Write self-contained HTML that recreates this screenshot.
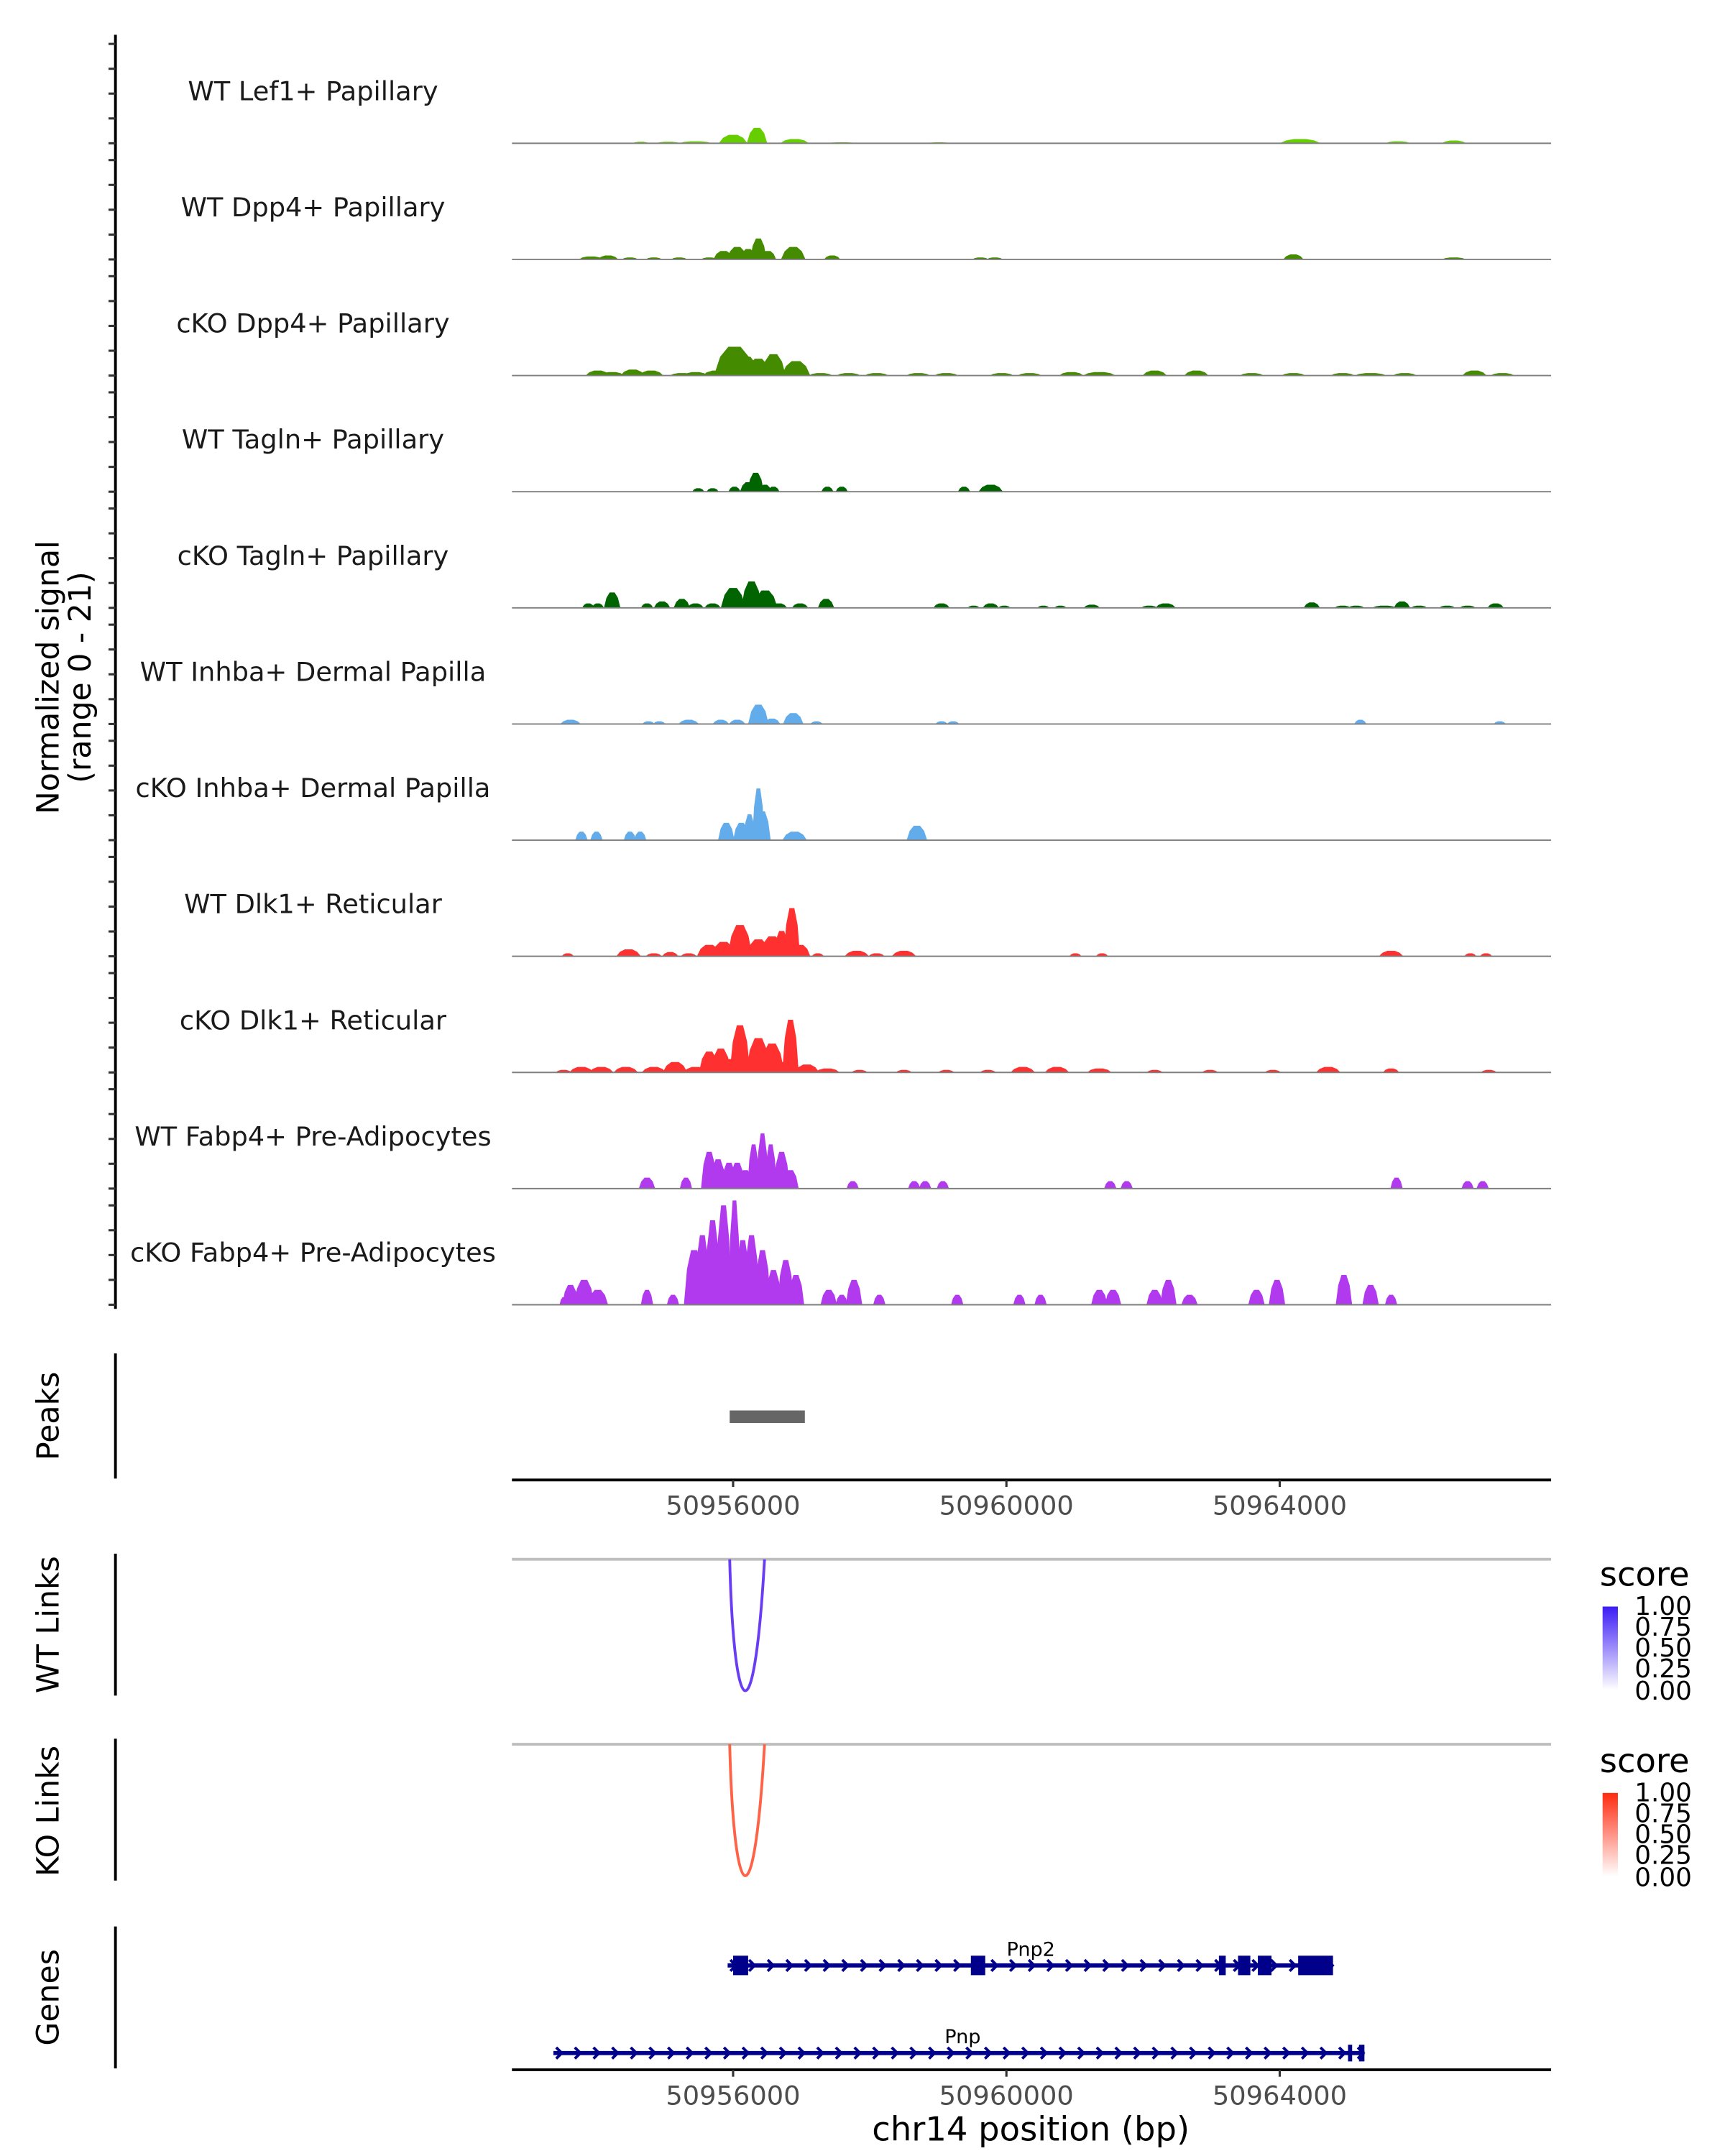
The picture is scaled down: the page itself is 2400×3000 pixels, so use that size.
<!DOCTYPE html>
<html><head><meta charset="utf-8"><style>
html,body{margin:0;padding:0;background:#fff}
svg{display:block}
text{font-family:"DejaVu Sans","Liberation Sans",sans-serif}
</style></head><body>
<svg id="chart" width="2400" height="3000" viewBox="0 0 1240 1550" preserveAspectRatio="none" xmlns="http://www.w3.org/2000/svg">
<defs>
<linearGradient id="gWT" x1="0" y1="1" x2="0" y2="0"><stop offset="0" stop-color="#ffffff"/><stop offset="1" stop-color="#3b1cf5"/></linearGradient>
<linearGradient id="gKO" x1="0" y1="1" x2="0" y2="0"><stop offset="0" stop-color="#ffffff"/><stop offset="1" stop-color="#ff2a10"/></linearGradient>
</defs>
<g id="tracks"></g>
<text transform="translate(42,487) rotate(-90)" text-anchor="middle" font-size="22" fill="#000">Normalized signal</text>
<text transform="translate(65,487) rotate(-90)" text-anchor="middle" font-size="22" fill="#000">(range 0 - 21)</text>
<g id="peaks"></g>
<text transform="translate(42,1018) rotate(-90)" text-anchor="middle" font-size="22">Peaks</text>
<g id="links"></g>
<text transform="translate(42,1168) rotate(-90)" text-anchor="middle" font-size="22">WT Links</text>
<text transform="translate(42,1302) rotate(-90)" text-anchor="middle" font-size="22">KO Links</text>
<g>
<text x="1150" y="1140" font-size="24">score</text>
<rect x="1152" y="1155" width="11" height="60" fill="url(#gWT)"/>
<g font-size="18.5" fill="#000"><text x="1175" y="1161">1.00</text><text x="1175" y="1176">0.75</text><text x="1175" y="1191">0.50</text><text x="1175" y="1206">0.25</text><text x="1175" y="1222">0.00</text></g>
</g>
<g>
<text x="1150" y="1274" font-size="24">score</text>
<rect x="1152" y="1289" width="11" height="60" fill="url(#gKO)"/>
<g font-size="18.5" fill="#000"><text x="1175" y="1295">1.00</text><text x="1175" y="1310">0.75</text><text x="1175" y="1325">0.50</text><text x="1175" y="1340">0.25</text><text x="1175" y="1356">0.00</text></g>
</g>
<g id="genes"></g>
<text transform="translate(42,1436) rotate(-90)" text-anchor="middle" font-size="22">Genes</text>
<text x="741" y="1539" text-anchor="middle" font-size="24">chr14 position (bp)</text>
</svg>
<script>
const NS='http://www.w3.org/2000/svg';
const xDomain=[50952763,50967972];
const xTicks=[50956000,50960000,50964000];
const yMax=21;
const yTicks=[0,5,10,15,20];
const trackNames=["WT Lef1+ Papillary","WT Dpp4+ Papillary","cKO Dpp4+ Papillary","WT Tagln+ Papillary","cKO Tagln+ Papillary","WT Inhba+ Dermal Papilla","cKO Inhba+ Dermal Papilla","WT Dlk1+ Reticular","cKO Dlk1+ Reticular","WT Fabp4+ Pre-Adipocytes","cKO Fabp4+ Pre-Adipocytes"];
const trackColors=["#66cd00","#458b00","#458b00","#006400","#006400","#63aceb","#63aceb","#ff3030","#ff3030","#b23aee","#b23aee"];
// peaks: [position bp, signal, width bp]
const sigLef1WT=[[50955450,0.4,400],[50956000,1.7,350],[50956350,3.1,250],[50956900,0.85,350],[50955050,0.3,300],[50954650,0.3,200],[50964300,0.85,500],[50965730,0.4,300],[50966550,0.55,300],[50959010,0.2,300],[50957590,0.2,400]];
const sigDpp4WT=[[50953920,0.6,300],[50954170,0.8,250],[50954490,0.4,200],[50954840,0.4,200],[50955210,0.4,200],[50955650,0.4,200],[50955860,1.7,250],[50956060,2.5,250],[50956220,2.1,200],[50956370,4.2,200],[50956510,1.7,200],[50956880,2.5,300],[50957450,0.8,200],[50959620,0.4,200],[50959830,0.4,200],[50964200,1,250],[50966550,0.4,300]];
const sigDpp4KO=[[50954020,1,300],[50954230,0.7,300],[50954530,1.2,300],[50954800,1,300],[50955250,0.5,300],[50955450,0.7,300],[50955760,1,350],[50956020,5.8,500],[50956200,3.8,300],[50956370,3.4,300],[50956590,4.3,300],[50956920,2.9,350],[50957280,0.5,300],[50957690,0.5,300],[50958100,0.5,300],[50958710,0.5,300],[50959120,0.5,300],[50959930,0.5,300],[50960340,0.5,300],[50960950,0.7,300],[50961360,0.7,400],[50962170,1,300],[50962780,1,300],[50963590,0.5,300],[50964200,0.5,300],[50964920,0.5,300],[50965330,0.5,400],[50965830,0.5,300],[50966850,1,300],[50967260,0.5,300]];
const sigTaglnWT=[[50955490,0.7,150],[50955700,0.7,150],[50956020,1,150],[50956220,1.9,200],[50956330,3.8,200],[50956470,1.4,150],[50956590,1,150],[50957380,1,150],[50957590,1,150],[50959380,1,150],[50959770,1.4,300]];
const sigTaglnKO=[[50953880,0.9,150],[50954020,0.9,150],[50954230,3.1,200],[50954740,0.9,150],[50954960,1.3,200],[50955250,1.8,200],[50955450,0.9,200],[50955700,0.9,200],[50956000,4,300],[50956270,5.3,250],[50956470,3.5,300],[50956670,0.9,200],[50956980,0.9,200],[50957360,1.8,200],[50959050,0.9,200],[50959520,0.45,150],[50959770,0.9,200],[50959970,0.45,150],[50960540,0.45,150],[50960790,0.45,150],[50961250,0.65,200],[50962090,0.45,200],[50962330,0.9,250],[50964470,1.1,200],[50964920,0.45,200],[50965120,0.45,200],[50965530,0.45,300],[50965790,1.3,200],[50966040,0.45,200],[50966450,0.45,200],[50966750,0.45,200],[50967160,0.9,200]];
const sigInhbaWT=[[50953620,0.85,250],[50954760,0.55,150],[50954920,0.55,150],[50955350,0.85,250],[50955820,0.85,200],[50956060,0.85,200],[50956370,3.9,250],[50956570,1.1,200],[50956880,2.2,250],[50957220,0.55,150],[50959050,0.55,150],[50959220,0.55,150],[50965180,0.85,150],[50967220,0.55,150]];
const sigInhbaKO=[[50953780,1.7,150],[50954000,1.7,150],[50954490,1.7,150],[50954640,1.7,150],[50955900,3.5,200],[50956120,3.5,200],[50956240,5.2,150],[50956370,10.4,150],[50956430,5.8,200],[50956900,1.7,300],[50958690,2.9,250]];
const sigDlk1WT=[[50953580,0.6,150],[50954470,1.4,300],[50954840,0.6,200],[50955080,0.85,200],[50955350,0.6,200],[50955650,2.3,300],[50955860,2.9,300],[50956100,6.3,300],[50956370,3.4,300],[50956570,4,300],[50956710,5.1,200],[50956860,9.7,200],[50956980,2.3,250],[50957240,0.6,150],[50957810,1.1,300],[50958100,0.6,200],[50958500,1.1,300],[50961010,0.6,150],[50961400,0.6,150],[50965630,1.1,300],[50966790,0.6,150],[50967020,0.6,150]];
const sigDlk1KO=[[50953520,0.5,200],[50953780,1.1,300],[50954070,1.1,300],[50954430,1.1,300],[50954840,1.1,300],[50955150,2.1,300],[50955450,1.1,300],[50955650,4.2,250],[50955820,4.8,250],[50955960,2.7,250],[50956100,9.5,250],[50956370,6.9,300],[50956570,5.8,300],[50956710,2.1,200],[50956840,10.6,200],[50957080,1.6,300],[50957380,0.8,300],[50957850,0.5,200],[50958500,0.5,200],[50959120,0.5,200],[50959730,0.5,200],[50960240,1.1,300],[50960740,1.1,300],[50961360,0.8,300],[50962170,0.5,200],[50962980,0.5,200],[50963900,0.5,200],[50964710,1.1,300],[50965630,0.8,200],[50967060,0.5,200]];
const sigFabp4WT=[[50954740,2.2,200],[50955310,2.2,150],[50955650,7.4,200],[50955780,5.9,200],[50955940,5.2,200],[50956060,5.2,200],[50956180,3.7,200],[50956300,8.9,150],[50956430,11.1,150],[50956550,8.9,150],[50956710,7.4,200],[50956840,3.7,200],[50957750,1.5,150],[50958650,1.5,150],[50958810,1.5,150],[50959070,1.5,150],[50961520,1.5,150],[50961760,1.5,150],[50965710,2.2,150],[50966750,1.5,150],[50966970,1.5,150]];
const sigFabp4KO=[[50953520,1.5,100],[50953620,4,200],[50953820,5,250],[50954020,3,250],[50954740,3,150],[50955120,2,150],[50955430,11,250],[50955550,14,200],[50955700,17,200],[50955860,20,200],[50956020,21,150],[50956140,13,200],[50956270,14,200],[50956430,11,200],[50956590,7,200],[50956770,9,200],[50956920,6,200],[50957400,3,200],[50957590,2,150],[50957770,5,200],[50958140,2,150],[50959280,2,150],[50960190,2,150],[50960500,2,150],[50961360,3,200],[50961560,3,200],[50962170,3,200],[50962370,5,200],[50962680,2,200],[50963660,3,200],[50963960,5,200],[50964940,6,200],[50965330,4,200],[50965630,2,150]];
const trackSignals=[sigLef1WT,sigDpp4WT,sigDpp4KO,sigTaglnWT,sigTaglnKO,sigInhbaWT,sigInhbaKO,sigDlk1WT,sigDlk1KO,sigFabp4WT,sigFabp4KO];
const peakRegions=[[50955950,50957050]];
const wtLinks=[[50955950,50956460,1.0]];
const koLinks=[[50955950,50956460,1.0]];
const pnp2Exons=[[50956000,50956220],[50959480,50959690],[50963110,50963210],[50963390,50963570],[50963680,50963880],[50964270,50964780]];
const pnpExons=[[50965000,50965060],[50965160,50965240]];
const geneSpans=[["Pnp2",50955920,50964780],["Pnp",50953370,50965240]];

const PX0=368,PX1=1115;
const PEAK_SPREAD=1.2;
function xs(bp){return PX0+(bp-xDomain[0])/(xDomain[1]-xDomain[0])*(PX1-PX0);}
const TRACK_BASE0=103,TRACK_STEP=83.5,TRACK_H=75;
function ys(v,base){return base-v/yMax*TRACK_H;}
function mk(tag,attrs,parent){const e=document.createElementNS(NS,tag);for(const k in attrs)e.setAttribute(k,attrs[k]);parent.appendChild(e);return e;}

const tg=document.getElementById('tracks');
const yAxisLine=mk('line',{x1:83,x2:83,y1:25,y2:941,stroke:'#000','stroke-width':2},tg);


trackNames.forEach((name,i)=>{
  const base=TRACK_BASE0+i*TRACK_STEP;
  const g=mk('g',{},tg);
  
  
  yTicks.forEach(t=>{
    const tk=mk('line',{x1:78,x2:83,y1:ys(t,base),y2:ys(t,base),stroke:'#333','stroke-width':1.6},g);
    
    
  });
  const lab=mk('text',{x:225,y:base-31,'text-anchor':'middle','font-size':19,fill:'#1a1a1a'},g);
  lab.textContent=name;
  
  
  trackSignals[i].forEach(p=>{
    const c=xs(p[0]),hw=(xs(p[0]+p[2]/2)-xs(p[0]-p[2]/2))/2*PEAK_SPREAD,top=ys(p[1],base);
    const poly=mk('polygon',{points:`${c-hw},${base} ${c-hw*0.7},${top+(base-top)*0.35} ${c-hw*0.3},${top} ${c+hw*0.3},${top} ${c+hw*0.7},${top+(base-top)*0.35} ${c+hw},${base}`,fill:trackColors[i]},g);
    
    
  });
  const bl=mk('line',{x1:PX0,x2:PX1,y1:base,y2:base,stroke:'#7f7f7f','stroke-width':1},g);
  
  
});

function xAxis(parent,y){
  const l=mk('line',{x1:PX0,x2:PX1,y1:y,y2:y,stroke:'#000','stroke-width':2},parent);
  
  
  xTicks.forEach(t=>{
    const tk=mk('line',{x1:xs(t),x2:xs(t),y1:y,y2:y+5,stroke:'#333','stroke-width':1.6},parent);
    
    
    const tl=mk('text',{x:xs(t),y:y+25,'text-anchor':'middle','font-size':19,fill:'#4d4d4d'},parent);
    tl.textContent=String(t);
    
    
  });
}
const pg=document.getElementById('peaks');
const pax=mk('line',{x1:83,x2:83,y1:973,y2:1063,stroke:'#000','stroke-width':2},pg);


peakRegions.forEach(r=>{
  const rc=mk('rect',{x:xs(r[0]),y:1014,width:xs(r[1])-xs(r[0]),height:9,fill:'#666'},pg);
  
  
});
xAxis(pg,1064);

const lg=document.getElementById('links');
function linkPanel(top,links,color,name){
  const g=mk('g',{},lg);
  
  
  const a=mk('line',{x1:83,x2:83,y1:top-4,y2:top+98,stroke:'#000','stroke-width':2},g);
  
  
  const b=mk('line',{x1:PX0,x2:PX1,y1:top,y2:top,stroke:'#bebebe','stroke-width':2},g);
  
  
  links.forEach(k=>{
    const x1=xs(k[0]),x2=xs(k[1]),d=95*k[2];
    const p=mk('path',{d:`M${x1},${top} C${x1+(x2-x1)*0.12},${top+d*1.25} ${x2-(x2-x1)*0.3},${top+d*1.4} ${x2},${top}`,fill:'none',stroke:color,'stroke-width':2},g);
    
    
  });
}
linkPanel(1121,wtLinks,'#6a3df5','wt-links-panel');
linkPanel(1254,koLinks,'#ff6347','ko-links-panel');

const gg=document.getElementById('genes');
const gax=mk('line',{x1:83,x2:83,y1:1385,y2:1487,stroke:'#000','stroke-width':2},gg);


const geneY=[1413,1476],geneLabelX=[741,692],geneExons=[pnp2Exons,pnpExons],exonH=[14,12];
geneSpans.forEach((gs,i)=>{
  const g=mk('g',{},gg);
  
  
  const y=geneY[i],x1=xs(gs[1]),x2=xs(gs[2]);
  mk('line',{x1:x1,x2:x2,y1:y,y2:y,stroke:'#00008b','stroke-width':3},g);
  for(let x=x1+2;x<x2-4;x+=13.4){
    mk('path',{d:`M${x},${y-4} L${x+4},${y} L${x},${y+4}`,fill:'none',stroke:'#00008b','stroke-width':2},g);
  }
  geneExons[i].forEach(e=>{
    const r=mk('rect',{x:xs(e[0]),y:y-exonH[i]/2,width:Math.max(2,xs(e[1])-xs(e[0])),height:exonH[i],fill:'#00008b'},g);
    
    
  });
  const t=mk('text',{x:geneLabelX[i],y:y-7,'text-anchor':'middle','font-size':14,fill:'#000'},g);
  t.textContent=gs[0];
  
  
});
xAxis(gg,1488);
</script>
</body></html>
